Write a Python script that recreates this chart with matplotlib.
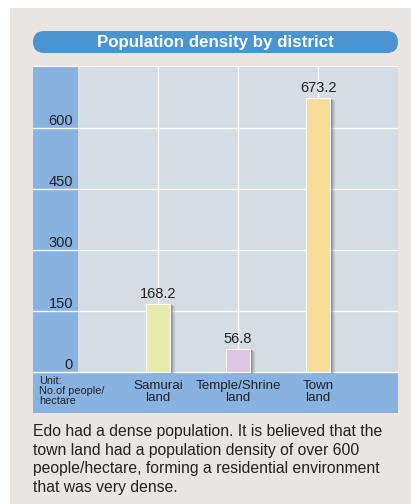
import matplotlib
matplotlib.use("Agg")
import matplotlib.pyplot as plt
import matplotlib.patheffects as pe
from matplotlib.patches import Rectangle, FancyBboxPatch

plt.rcParams["font.family"] = ["Liberation Sans", "DejaVu Sans"]

# --- data ---
districts = ["Samurai\nland", "Temple/Shrine\nland", "Town\nland"]
density = [168.2, 56.8, 673.2]
bar_colors = ["#e6edac", "#dcc6e2", "#f6dc96"]
y_ticks = [0, 150, 300, 450, 600]
title = "Population density by district"
unit_note = "Unit:\nNo.of people/\nhectare"
caption = ("Edo had a dense population. It is believed that the\n"
           "town land had a population density of over 600\n"
           "people/hectare, forming a residential environment\n"
           "that was very dense.")

W, H = 411, 504
PANEL = "#e9e5e2"
BLUE_PILL = "#4a94d2"
BLUE_SIDE = "#88b2e0"
PLOT_BG = "#d4dde3"

fig = plt.figure(figsize=(W / 100, H / 100), dpi=100)
fig.patch.set_facecolor("white")

# grey panel behind everything (pixel units through dpi_scale_trans)
fig.patches.append(Rectangle((0.10, 0), 4.11, 4.96, transform=fig.dpi_scale_trans,
                             facecolor=PANEL, edgecolor="none", zorder=-2))
# title pill
fig.patches.append(FancyBboxPatch((0.33, (H - 53) / 100), 3.65, 0.22,
                                  boxstyle="round,pad=0,rounding_size=0.11",
                                  transform=fig.dpi_scale_trans,
                                  facecolor=BLUE_PILL, edgecolor="none", zorder=-1))
fig.text(215.5 / W, 1 - 42.5 / H, title, color="white", fontsize=12.2,
         fontweight="bold", ha="center", va="center")

# axes: x 33..398 px, y 66..413 px ; data 0 at 78 px / 372 px
ax = fig.add_axes([33 / W, (H - 413) / H, 365 / W, 347 / H])
px_per_unit_x = 80.0
px_per_val = 61.0 / 150
x_min = -45 / px_per_unit_x
y_top = (372 - 66) / px_per_val
y_bot = -(413 - 372) / px_per_val
ax.set_xlim(x_min, 4)
ax.set_ylim(y_bot, y_top)
ax.set_facecolor(PLOT_BG)
for s in ax.spines.values():
    s.set_visible(False)

ax.add_patch(Rectangle((x_min, 0), -x_min, y_top, facecolor=BLUE_SIDE,
                       edgecolor="none", zorder=0.5))
ax.axhspan(y_bot, 0, facecolor=BLUE_SIDE, edgecolor="none", zorder=0.5)

for t in y_ticks:
    ax.axhline(t, color="white", lw=1.0, zorder=1)
ax.axhline(y_top, color="white", lw=1.5, zorder=1)
xpos = [1, 2, 3]
ax.vlines(xpos, 0, y_top, color="white", lw=1.0, zorder=1)

bars = ax.bar(xpos, density, width=0.29, color=bar_colors, edgecolor="white",
              linewidth=0.8, zorder=3)
# soft drop shadow to the right of each bar
for b in bars:
    b.set_path_effects([
        pe.SimplePatchShadow(offset=(4.0, -1.5), shadow_rgbFace="#333333", alpha=0.15),
        pe.SimplePatchShadow(offset=(2.8, -1.0), shadow_rgbFace="#333333", alpha=0.2),
        pe.SimplePatchShadow(offset=(1.6, -0.6), shadow_rgbFace="#333333", alpha=0.25),
        pe.Normal(),
    ])

for x, v in zip(xpos, density):
    ax.annotate(f"{v}", xy=(x, v), xytext=(0, 2), textcoords="offset points",
                ha="center", va="bottom", fontsize=10.5, color="#222222")

ax.set_xticks([])
ax.set_yticks(y_ticks)
ax.set_yticklabels([str(t) for t in y_ticks], fontsize=10.5, color="#222222")
ax.tick_params(axis="y", length=0, pad=-28.8)
for lab in ax.get_yticklabels():
    lab.set_verticalalignment("bottom")

for x, name in zip(xpos, districts):
    ax.annotate(name, xy=(x, 0), xytext=(0, -6), textcoords="offset points",
                ha="center", va="top", fontsize=9.6, linespacing=0.92,
                color="#222222")

ax.annotate(unit_note, xy=(x_min, 0), xytext=(4.3, -3.2), textcoords="offset points",
            ha="left", va="top", fontsize=7.8, linespacing=0.98, color="#222222")

fig.text(33 / W, 1 - 424 / H, caption, ha="left", va="top", fontsize=11.3,
         linespacing=1.3, color="#222222")

fig.savefig("out.png", dpi=100, facecolor=fig.get_facecolor())
